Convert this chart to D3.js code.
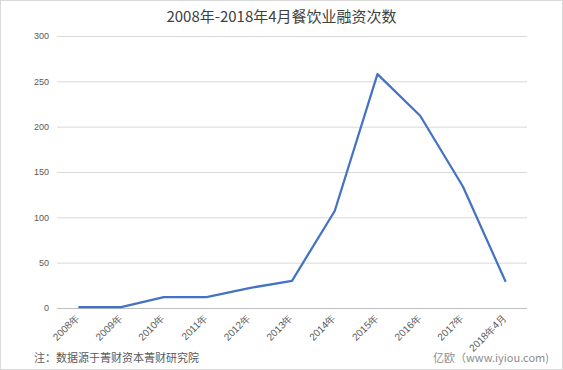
<!DOCTYPE html>
<html>
<head>
<meta charset="utf-8">
<script src="https://cdn.jsdelivr.net/npm/d3@7"></script>
<style>
  body { margin: 0; background: #fff; }
  svg { display: block; font-family: "Noto Sans CJK SC", "Noto Sans", sans-serif; }
</style>
</head>
<body>
<svg id="chart" width="563" height="370"></svg>
<script>
const title = "2008年-2018年4月餐饮业融资次数";
const categories = ["2008年", "2009年", "2010年", "2011年", "2012年", "2013年",
  "2014年", "2015年", "2016年", "2017年", "2018年4月"];
const counts = [1, 1, 12, 12, 22, 30, 107, 258, 212, 134, 29];
const yTicks = [0, 50, 100, 150, 200, 250, 300];
const noteText = "注：数据源于菁财资本菁财研究院";
const sourceText = "亿欧（www.iyiou.com)";

const width = 563, height = 370;
const margin = { top: 36, right: 36, bottom: 62, left: 57 };
const innerW = width - margin.left - margin.right;
const innerH = height - margin.top - margin.bottom;

const svg = d3.select("#chart");

// outer frame
svg.append("rect")
  .attr("x", 0.5).attr("y", 0.5)
  .attr("width", width - 1).attr("height", height - 1)
  .attr("fill", "#fff").attr("stroke", "#d9d9d9");

svg.append("text")
  .attr("x", width / 2).attr("y", 22)
  .attr("text-anchor", "middle")
  .attr("font-size", "15px")
  .attr("fill", "#404040")
  .text(title);

const g = svg.append("g")
  .attr("transform", "translate(" + margin.left + "," + margin.top + ")");

const x = d3.scaleBand()
  .domain(categories)
  .range([0, innerW]);

const y = d3.scaleLinear()
  .domain([0, 300])
  .range([innerH, 0]);

// Y axis with gridlines
g.append("g")
  .call(d3.axisLeft(y).tickValues(yTicks).tickSize(-innerW).tickPadding(8))
  .call(s => s.select(".domain").remove())
  .call(s => s.selectAll("line").attr("stroke", (d) => d === 0 ? "#bfbfbf" : "#d9d9d9"))
  .call(s => s.selectAll("text").attr("fill", "#595959").attr("font-size", "9px")
    .attr("font-family", "Liberation Sans, Arial, sans-serif"));

// X axis
g.append("g")
  .attr("transform", "translate(0," + innerH + ")")
  .call(d3.axisBottom(x).tickSize(0).tickPadding(6))
  .call(s => s.select(".domain").remove())
  .call(s => s.selectAll("text")
    .attr("fill", "#595959")
    .attr("font-size", "10px")
    .attr("text-anchor", "end")
    .attr("dy", "0.6em")
    .attr("transform", "translate(-7,2) rotate(-45)"));

// line
const line = d3.line()
  .x((d, i) => x(categories[i]) + x.bandwidth() / 2)
  .y(d => y(d));

g.append("path")
  .datum(counts)
  .attr("fill", "none")
  .attr("stroke", "#4472c4")
  .attr("stroke-width", 2.25)
  .attr("stroke-linejoin", "round")
  .attr("d", line);

// footer
svg.append("text")
  .attr("x", 34).attr("y", 362)
  .attr("font-size", "11px")
  .attr("fill", "#595959")
  .text(noteText);

svg.append("text")
  .attr("x", 549).attr("y", 362)
  .attr("text-anchor", "end")
  .attr("font-size", "11px")
  .attr("fill", "#8c8c8c")
  .text(sourceText);
</script>
</body>
</html>
